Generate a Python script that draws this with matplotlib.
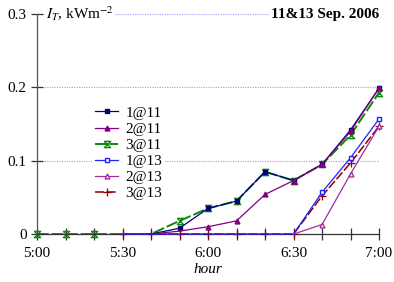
import matplotlib
matplotlib.use('Agg')
import matplotlib.pyplot as plt
from matplotlib.ticker import MultipleLocator, FixedLocator

plt.rcParams['font.family'] = ['Liberation Serif', 'DejaVu Serif']
plt.rcParams['mathtext.fontset'] = 'stix'
plt.rcParams['font.size'] = 11

# minutes after 5:00
t_all = [0, 10, 20, 30, 40, 50, 60, 70, 80, 90, 100, 110, 120]
t_11 = [40, 50, 60, 70, 80, 90, 100, 110, 120]
t_13 = [30, 40, 50, 60, 70, 80, 90, 100, 110, 120]
t_2at13 = [90, 100, 110, 120]

s1_11 = [0, 0.008, 0.035, 0.045, 0.085, 0.073, 0.095, 0.142, 0.199]
s2_11 = [0, 0.004, 0.010, 0.018, 0.054, 0.073, 0.095, 0.140, 0.199]
s3_11 = [0, 0, 0, 0, 0, 0.018, 0.035, 0.045, 0.085, 0.073, 0.095, 0.135, 0.193]
s1_13 = [0, 0, 0, 0, 0, 0, 0, 0.057, 0.104, 0.157]
s2_13 = [0, 0.013, 0.082, 0.147]
s3_13 = [0, 0, 0, 0, 0, 0, 0, 0.052, 0.097, 0.147]

xticks = [0, 30, 60, 90, 120]
xlabels = ['5:00', '5:30', '6:00', '6:30', '7:00']
yticks = [0, 0.1, 0.2, 0.3]
ylabels = ['0', '0.1', '0.2', '0.3']

hourglass = [(-1, 1), (1, 1), (-1, -1), (1, -1), (-1, 1)]

fig = plt.figure(figsize=(3.94, 2.82), dpi=100)
ax = fig.add_axes([0.094, 0.170, 0.868, 0.780])

# dotted grid
for y in yticks[1:]:
    ax.axhline(y, color='#9a9af0', lw=0.8, ls=(0, (1, 1.2)), zorder=0)

ax.plot(t_11, s1_11, color='#00007a', lw=0.9, marker='s', ms=3.5, markevery=list(range(1, 9)),
        label='1@11', clip_on=False, zorder=3)
ax.plot(t_11, s2_11, color='#800080', lw=0.9, marker='^', ms=3.5, markevery=list(range(2, 9)),
        label='2@11', clip_on=False, zorder=3)
ax.plot(t_all, s3_11, color='#0c880c', lw=1.4, dashes=(6, 1.5), marker=hourglass, ms=4.5,
        mew=1.0, fillstyle='none', markevery=[0, 1, 2] + list(range(5, 13)),
        label='3@11', clip_on=False, zorder=2)
ax.plot(t_13, s1_13, color='#2020ff', lw=0.9, marker='s', ms=3.5, mfc='white',
        markevery=[7, 8, 9], label='1@13', clip_on=False, zorder=4)
ax.plot(t_2at13, s2_13, color='#a030a0', lw=0.9, marker='^', ms=3.5, mfc='white',
        markevery=[1, 2, 3], label='2@13', clip_on=False, zorder=4)
ax.plot(t_13, s3_13, color='#8b0000', lw=1.1, dashes=(6, 1.5), marker='+', ms=6, mew=0.9,
        label='3@13', clip_on=False, zorder=3.5)

ax.set_xlim(0, 120)
ax.set_ylim(0, 0.3)
ax.xaxis.set_major_locator(FixedLocator(xticks))
ax.set_xticklabels(xlabels)
ax.xaxis.set_minor_locator(MultipleLocator(10))
ax.set_yticks(yticks)
ax.set_yticklabels(ylabels)
ax.tick_params(axis='both', which='both', direction='inout', length=9, width=0.9, colors='#333333',
               labelcolor='black', labelsize=11)
ax.tick_params(axis='x', pad=5)
ax.tick_params(axis='y', pad=3)

for side in ['top', 'right']:
    ax.spines[side].set_visible(False)
ax.spines['left'].set_color('#555555')
ax.spines['bottom'].set_color('#333333')
ax.spines['left'].set_linewidth(0.9)
ax.spines['bottom'].set_linewidth(0.9)

ax.set_xlabel('hour', style='italic', fontsize=11, labelpad=2)

ax.text(0.025, 1.0, r'$I_T$, kWm$^{-2}$', transform=ax.transAxes, ha='left', va='center',
        fontsize=11, bbox=dict(facecolor='white', edgecolor='none', pad=1), zorder=6)
ax.text(1.0, 1.0, '11&13 Sep. 2006', transform=ax.transAxes, ha='right', va='center',
        fontsize=11, fontweight='bold', bbox=dict(facecolor='white', edgecolor='none', pad=1), zorder=6)

leg = ax.legend(loc='upper left', bbox_to_anchor=(92 / 394, 1 - 103 / 282), bbox_transform=fig.transFigure,
                frameon=True, facecolor='white', edgecolor='none', framealpha=1, fancybox=False,
                handlelength=1.5, handletextpad=0.5, labelspacing=0.16, borderpad=0.2, borderaxespad=0,
                fontsize=11)
leg.set_zorder(7)

fig.savefig('out.png', dpi=100)
